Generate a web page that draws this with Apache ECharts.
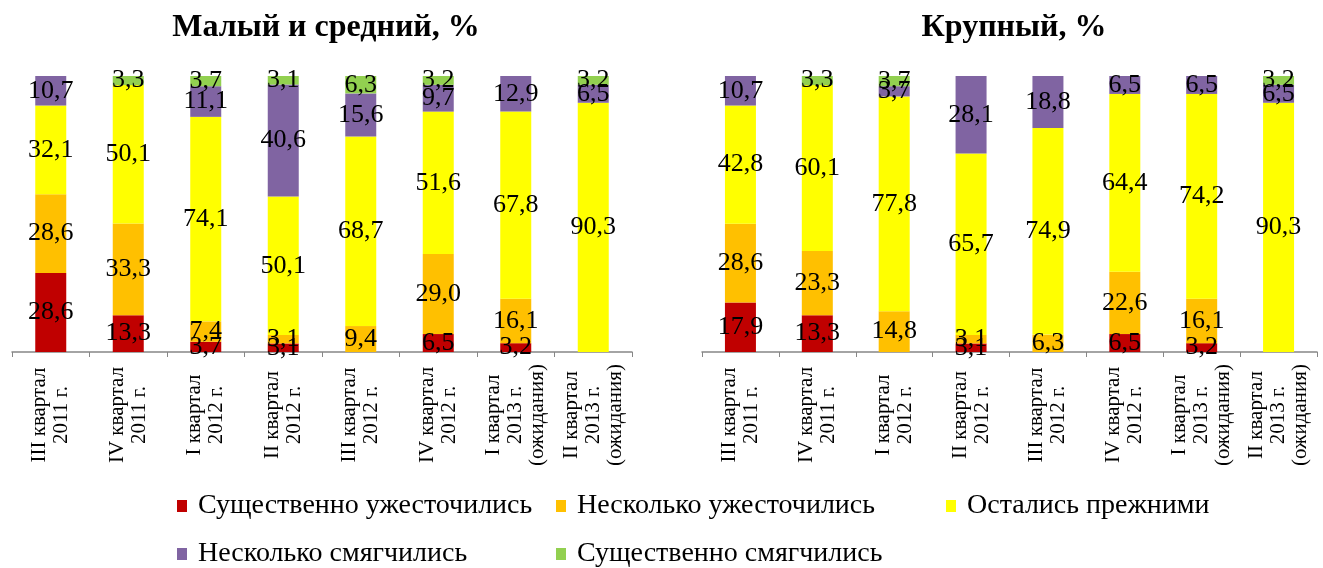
<!DOCTYPE html>
<html>
<head>
<meta charset="utf-8">
<script src="https://cdn.jsdelivr.net/npm/echarts@6/dist/echarts.min.js"></script>
<style>
  html, body { margin: 0; padding: 0; background: #fff; }
  #chart { width: 1323px; height: 568px; }
</style>
</head>
<body>
<div id="chart"></div>
<script>
const categories = [
  'III квартал\n2011 г.', 'IV квартал\n2011 г.', 'I квартал\n2012 г.', 'II квартал\n2012 г.',
  'III квартал\n2012 г.', 'IV квартал\n2012 г.', 'I квартал\n2013 г.\n(ожидания)', 'II квартал\n2013 г.\n(ожидания)'
]
const seriesNames = ['Существенно ужесточились', 'Несколько ужесточились', 'Остались прежними', 'Несколько смягчились', 'Существенно смягчились']

// Малый и средний
const smallSevereTight = [28.6, 13.3, 3.7, 3.1, 0, 6.5, 3.2, 0]
const smallTight = [28.6, 33.3, 7.4, 3.1, 9.4, 29.0, 16.1, 0]
const smallSame = [32.1, 50.1, 74.1, 50.1, 68.7, 51.6, 67.8, 90.3]
const smallSoft = [10.7, 0, 11.1, 40.6, 15.6, 9.7, 12.9, 6.5]
const smallSevereSoft = [0, 3.3, 3.7, 3.1, 6.3, 3.2, 0, 3.2]

// Крупный
const bigSevereTight = [17.9, 13.3, 0, 3.1, 0, 6.5, 3.2, 0]
const bigTight = [28.6, 23.3, 14.8, 3.1, 6.3, 22.6, 16.1, 0]
const bigSame = [42.8, 60.1, 77.8, 65.7, 74.9, 64.4, 74.2, 90.3]
const bigSoft = [10.7, 0, 3.7, 28.1, 18.8, 6.5, 6.5, 6.5]
const bigSevereSoft = [0, 3.3, 3.7, 0, 0, 0, 0, 3.2]

const colors = ['#C00000', '#FFC000', '#FFFF00', '#8064A2', '#92D050']
const serif = '"Liberation Serif", "Times New Roman", serif'

const chart = echarts.init(document.getElementById('chart'))

function makeSeries(dataList, idx) {
  return dataList.map((d, i) => ({
    name: seriesNames[i],
    type: 'bar',
    stack: 'total' + idx,
    xAxisIndex: idx,
    yAxisIndex: idx,
    barWidth: 31,
    data: d,
    itemStyle: { color: colors[i] },
    label: {
      show: true,
      position: 'inside',
      color: '#000',
      fontFamily: serif,
      fontSize: 26,
      formatter: p => p.value > 0 ? p.value.toFixed(1).replace('.', ',') : ''
    }
  }))
}

function xAxis(idx) {
  return {
    type: 'category',
    gridIndex: idx,
    data: categories,
    axisLine: { lineStyle: { color: '#868686', width: 1.5 } },
    axisTick: { show: true, length: 5, lineStyle: { color: '#868686' } },
    axisLabel: {
      interval: 0,
      rotate: 90,
      align: 'center',
      verticalAlign: 'middle',
      margin: 63,
      color: '#000',
      fontFamily: serif,
      fontSize: 21,
      lineHeight: 22
    }
  }
}

function yAxis(idx) {
  return {
    type: 'value',
    gridIndex: idx,
    min: 0,
    max: 100,
    show: false
  }
}

const legendPos = [
  { left: 172, top: 487 },
  { left: 551, top: 487 },
  { left: 941, top: 487 },
  { left: 172, top: 535 },
  { left: 551, top: 535 }
]

chart.setOption({
  animation: false,
  title: [
    { text: 'Малый и средний, %', left: 321, top: 7, textAlign: 'center',
      textStyle: { fontFamily: serif, fontSize: 32, fontWeight: 'bold', color: '#000' } },
    { text: 'Крупный, %', left: 1009, top: 7, textAlign: 'center',
      textStyle: { fontFamily: serif, fontSize: 32, fontWeight: 'bold', color: '#000' } }
  ],
  grid: [
    { left: 12, width: 620, top: 76, height: 276 },
    { left: 702, width: 615, top: 76, height: 276 }
  ],
  xAxis: [xAxis(0), xAxis(1)],
  yAxis: [yAxis(0), yAxis(1)],
  legend: seriesNames.map((n, i) => ({
    data: [n],
    left: legendPos[i].left,
    top: legendPos[i].top,
    icon: 'rect',
    itemWidth: 10,
    itemHeight: 12,
    textStyle: { fontFamily: serif, fontSize: 28, color: '#000', padding: [0, 0, 0, 6] }
  })),
  series: [
    ...makeSeries([smallSevereTight, smallTight, smallSame, smallSoft, smallSevereSoft], 0),
    ...makeSeries([bigSevereTight, bigTight, bigSame, bigSoft, bigSevereSoft], 1)
  ]
})
</script>
</body>
</html>
